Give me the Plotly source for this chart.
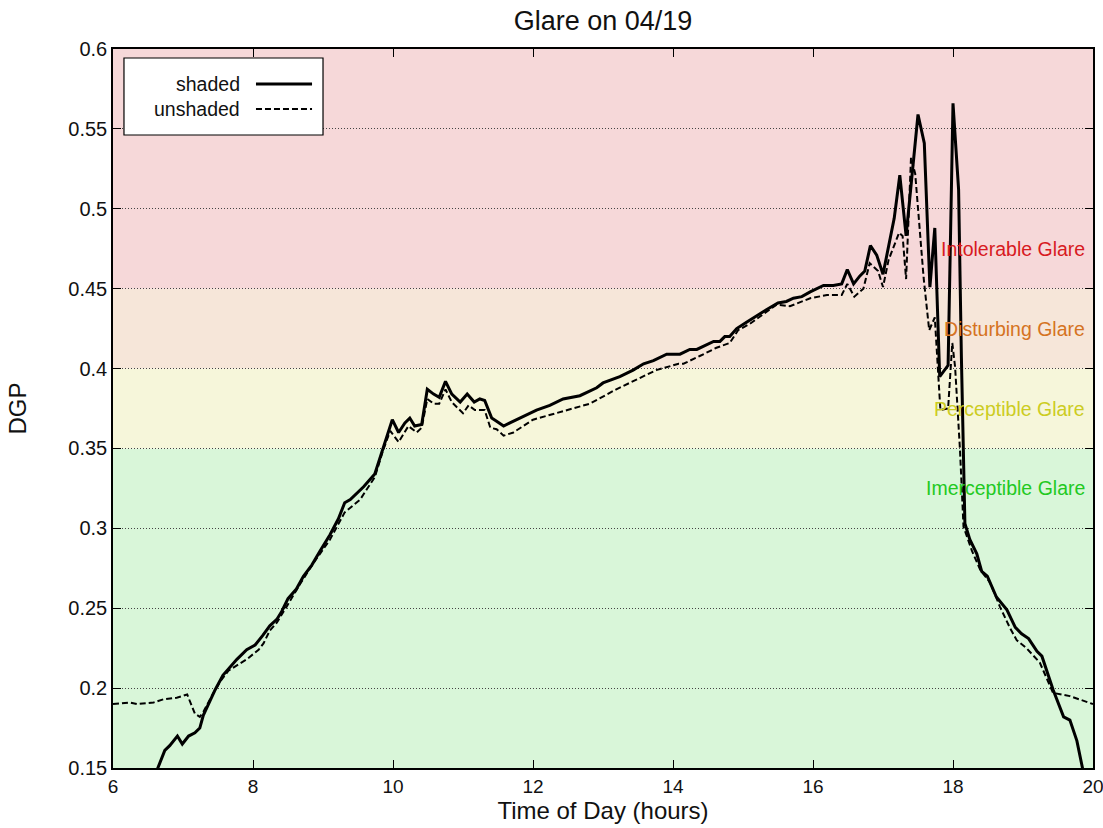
import plotly.graph_objects as go

# ---- data ----
shaded_t = [6.55, 6.74, 6.81, 6.92, 6.99, 7.08, 7.17, 7.24, 7.29, 7.34, 7.46, 7.57, 7.77, 7.91, 8.03,
            8.14, 8.24, 8.34, 8.41, 8.50, 8.62, 8.72, 8.84, 8.96, 9.10, 9.22, 9.31, 9.39, 9.58, 9.74,
            9.86, 9.99, 10.08, 10.17, 10.24, 10.31, 10.41, 10.49, 10.58, 10.66, 10.75, 10.84, 10.96,
            11.06, 11.16, 11.24, 11.31, 11.41, 11.48, 11.58, 11.67, 11.86, 12.05, 12.24, 12.43, 12.67,
            12.91, 13.00, 13.24, 13.43, 13.58, 13.72, 13.91, 14.10, 14.24, 14.34, 14.48, 14.58, 14.67,
            14.74, 14.81, 14.91, 15.05, 15.19, 15.34, 15.50, 15.62, 15.72, 15.84, 15.96, 16.15, 16.29,
            16.41, 16.49, 16.58, 16.67, 16.74, 16.82, 16.91, 17.00, 17.16, 17.24, 17.33, 17.50, 17.59,
            17.67, 17.74, 17.81, 17.93, 18.00, 18.08, 18.12, 18.17, 18.24, 18.34, 18.41, 18.49, 18.62,
            18.77, 18.89, 18.98, 19.08, 19.20, 19.27, 19.43, 19.58, 19.67, 19.77, 19.84, 19.92]
shaded_dgp = [0.140, 0.161, 0.164, 0.170, 0.165, 0.170, 0.172, 0.175, 0.183, 0.188, 0.199, 0.208, 0.218,
              0.224, 0.227, 0.233, 0.239, 0.243, 0.248, 0.256, 0.262, 0.270, 0.277, 0.286, 0.296, 0.306,
              0.316, 0.318, 0.326, 0.334, 0.351, 0.368, 0.360, 0.366, 0.369, 0.364, 0.365, 0.387, 0.384,
              0.382, 0.392, 0.384, 0.379, 0.384, 0.379, 0.381, 0.380, 0.369, 0.367, 0.364, 0.366, 0.370,
              0.374, 0.377, 0.381, 0.383, 0.388, 0.391, 0.395, 0.399, 0.403, 0.405, 0.409, 0.409, 0.412,
              0.412, 0.415, 0.417, 0.417, 0.420, 0.420, 0.425, 0.429, 0.433, 0.437, 0.441, 0.442, 0.444,
              0.445, 0.448, 0.452, 0.452, 0.453, 0.462, 0.453, 0.458, 0.461, 0.477, 0.471, 0.459, 0.494,
              0.521, 0.483, 0.559, 0.541, 0.451, 0.488, 0.395, 0.402, 0.566, 0.512, 0.407, 0.303, 0.293,
              0.284, 0.273, 0.270, 0.257, 0.249, 0.238, 0.234, 0.231, 0.223, 0.220, 0.199, 0.182, 0.180,
              0.167, 0.152, 0.135]

unshaded_t = [6.00, 6.24, 6.34, 6.58, 6.72, 6.91, 7.06, 7.17, 7.24, 7.29, 7.41, 7.53, 7.65, 7.91, 8.08,
              8.15, 8.24, 8.34, 8.48, 8.67, 8.86, 8.96, 9.10, 9.31, 9.53, 9.74, 9.86, 9.96, 10.08, 10.22,
              10.34, 10.41, 10.49, 10.58, 10.66, 10.75, 10.84, 11.00, 11.08, 11.17, 11.31, 11.39, 11.48,
              11.58, 11.72, 12.00, 12.34, 12.81, 13.19, 13.43, 13.76, 14.08, 14.15, 14.39, 14.62, 14.81,
              14.93, 15.10, 15.48, 15.67, 15.86, 15.96, 16.20, 16.41, 16.49, 16.59, 16.72, 16.81, 16.93,
              17.00, 17.08, 17.23, 17.28, 17.33, 17.40, 17.46, 17.58, 17.66, 17.74, 17.82, 17.93, 17.99,
              18.03, 18.10, 18.15, 18.27, 18.39, 18.53, 18.67, 18.81, 18.91, 19.05, 19.24, 19.43, 19.67,
              19.86, 20.00]
unshaded_dgp = [0.190, 0.191, 0.190, 0.191, 0.193, 0.194, 0.196, 0.184, 0.182, 0.185, 0.195, 0.204, 0.211,
                0.218, 0.224, 0.228, 0.236, 0.241, 0.251, 0.265, 0.278, 0.284, 0.293, 0.310, 0.318, 0.332,
                0.349, 0.361, 0.354, 0.364, 0.360, 0.363, 0.381, 0.378, 0.378, 0.387, 0.379, 0.372, 0.377,
                0.374, 0.374, 0.363, 0.362, 0.358, 0.360, 0.368, 0.372, 0.378, 0.387, 0.392, 0.399, 0.403,
                0.403, 0.408, 0.413, 0.416, 0.424, 0.428, 0.440, 0.439, 0.442, 0.444, 0.446, 0.446, 0.453,
                0.445, 0.450, 0.466, 0.461, 0.451, 0.468, 0.485, 0.483, 0.456, 0.532, 0.522, 0.457, 0.424,
                0.432, 0.374, 0.375, 0.416, 0.401, 0.349, 0.301, 0.286, 0.274, 0.266, 0.251, 0.238, 0.230,
                0.225, 0.216, 0.197, 0.195, 0.192, 0.190]

band_names = ["Imerceptible Glare", "Perceptible Glare", "Disturbing Glare", "Intolerable Glare"]
band_low = [0.15, 0.35, 0.40, 0.45]
band_high = [0.35, 0.40, 0.45, 0.60]
band_label_y = [0.325, 0.375, 0.425, 0.475]
band_fill = ["#d9f6d9", "#f6f6da", "#f6e6d9", "#f6d8d9"]
band_text = ["#22c922", "#cccc22", "#d57322", "#d81a22"]

x_ticks = [6, 8, 10, 12, 14, 16, 18, 20]
y_ticks = [0.15, 0.2, 0.25, 0.3, 0.35, 0.4, 0.45, 0.5, 0.55, 0.6]
y_tick_text = ["0.15", "0.2", "0.25", "0.3", "0.35", "0.4", "0.45", "0.5", "0.55", "0.6"]

FONT = "Liberation Sans, Arial, Helvetica, sans-serif"

fig = go.Figure()
fig.add_trace(go.Scatter(x=shaded_t, y=shaded_dgp, mode="lines", name="shaded",
                         line=dict(color="black", width=3), showlegend=False))
fig.add_trace(go.Scatter(x=unshaded_t, y=unshaded_dgp, mode="lines", name="unshaded",
                         line=dict(color="black", width=2, dash="6px,3px"), showlegend=False))

for lo, hi, ly, col, name, tcol in zip(band_low, band_high, band_label_y, band_fill, band_names, band_text):
    fig.add_shape(type="rect", xref="paper", yref="y", x0=0, x1=1, y0=lo, y1=hi,
                  fillcolor=col, line=dict(width=0), layer="below")
    fig.add_annotation(x=20, y=ly, xref="x", yref="y", text=name, showarrow=False,
                       xanchor="right", yanchor="middle", xshift=-6,
                       font=dict(family=FONT, size=19.5, color=tcol))

# custom legend (text left of sample, as in the reference)
fig.add_shape(type="rect", xref="paper", yref="paper", x0=0.0112, x1=0.2143, y0=0.8804, y1=0.9875,
              fillcolor="white", line=dict(color="black", width=1.2), layer="above")
leg_y = [0.9513, 0.9166]
leg_dash = ["solid", "6px,3px"]
leg_w = [3, 2]
for trace, yy, dsh, w in zip(fig.data, leg_y, leg_dash, leg_w):
    fig.add_shape(type="line", xref="paper", yref="paper", x0=0.1459, x1=0.2031, y0=yy, y1=yy,
                  line=dict(color="black", width=w, dash=dsh), layer="above")
    fig.add_annotation(x=0.1316, y=yy, xref="paper", yref="paper", text=trace.name, showarrow=False,
                       xanchor="right", yanchor="middle",
                       font=dict(family=FONT, size=19.5, color="#111"))

fig.update_layout(
    width=1103, height=828,
    margin=dict(l=113, r=10, t=49, b=60, autoexpand=False),
    paper_bgcolor="white", plot_bgcolor="white",
    font=dict(family=FONT, size=20, color="#111"),
    title=dict(text="Glare on 04/19", x=0.5, xref="paper", xanchor="center", y=0.9746, yanchor="middle",
               font=dict(family=FONT, size=27, color="#111")),
    showlegend=False,
)
fig.update_xaxes(range=[6, 20], tickvals=x_ticks, ticks="inside", ticklen=8, tickwidth=1,
                 tickcolor="black", showline=True, linecolor="black", linewidth=1.5, mirror="ticks",
                 showgrid=False, zeroline=False, automargin=False, ticklabeloverflow="allow",
                 title=dict(text="Time of Day (hours)", font=dict(size=24), standoff=2),
                 tickfont=dict(size=19))
fig.update_yaxes(range=[0.15, 0.6], tickvals=y_ticks, ticktext=y_tick_text, ticks="inside", ticklen=8,
                 tickwidth=1, tickcolor="black", showline=True, linecolor="black", linewidth=1.5,
                 mirror="ticks", showgrid=True, gridcolor="#444", gridwidth=1, griddash="1px,2px",
                 zeroline=False, automargin=False,
                 title=dict(text="DGP", font=dict(size=24), standoff=35),
                 tickfont=dict(size=20))

# remove the page's default body margin so the 1103x828 figure fills the window exactly
fig.write_html("out.html", config={"displayModeBar": False},
               post_script="document.body.style.margin='0';document.body.style.overflow='hidden';")
